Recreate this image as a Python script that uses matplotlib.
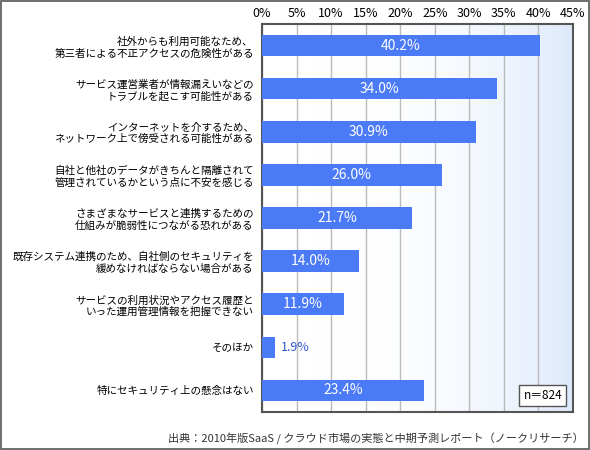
import numpy as np
import matplotlib.pyplot as plt

plt.rcParams['font.family'] = ['Noto Sans CJK JP', 'DejaVu Sans']

labels = ['社外からも利用可能なため、\n第三者による不正アクセスの危険性がある',
          'サービス運営業者が情報漏えいなどの\nトラブルを起こす可能性がある',
          'インターネットを介するため、\nネットワーク上で傍受される可能性がある',
          '自社と他社のデータがきちんと隔離されて\n管理されているかという点に不安を感じる',
          'さまざまなサービスと連携するための\n仕組みが脆弱性につながる恐れがある',
          '既存システム連携のため、自社側のセキュリティを\n緩めなければならない場合がある',
          'サービスの利用状況やアクセス履歴と\nいった運用管理情報を把握できない',
          'そのほか',
          '特にセキュリティ上の懸念はない']
values = [40.2, 34.0, 30.9, 26.0, 21.7, 14.0, 11.9, 1.9, 23.4]
ticks = np.arange(0, 50, 5)

fig = plt.figure(figsize=(5.9, 4.5), dpi=100)
ax = fig.add_axes([262/590, 1-412/450, 311/590, 388/450])

# light gradient on right side
grad = np.linspace(0, 1, 256) ** 3
ax.imshow(grad[None, :], extent=[0, 45, -0.5, len(values)-0.5], aspect='auto',
          cmap=plt.matplotlib.colors.LinearSegmentedColormap.from_list('g', ['#ffffff', '#dde9fb']),
          zorder=0)

y = np.arange(len(values))
ax.barh(y, values, height=0.5, color='#4a7af5', zorder=3)
for yi, v in zip(y, values):
    if v < 5:
        ax.text(v + 0.8, yi, f'{v:.1f}%', va='center', ha='left', color='#3355cc', fontsize=9)
    else:
        ax.text(v / 2, yi, f'{v:.1f}%', va='center', ha='center', color='white', fontsize=10)

ax.set_xlim(0, 45)
ax.set_ylim(len(values)-0.5, -0.5)
ax.set_xticks(ticks)
ax.set_xticklabels([f'{t}%' for t in ticks], fontsize=9)
ax.xaxis.tick_top()
ax.tick_params(axis='x', length=0, pad=3)
ax.set_yticks(y)
ax.set_yticklabels(labels, fontsize=7.6, linespacing=1.2)
ax.tick_params(axis='y', length=0, pad=6)
ax.grid(axis='x', color='#bbbbbb', lw=1, zorder=1)
for s in ax.spines.values():
    s.set_color('#555555')
    s.set_linewidth(1.5)

ax.text(0.965, 0.025, 'n＝824', transform=ax.transAxes, ha='right', va='bottom', fontsize=8.5,
        bbox=dict(facecolor='white', edgecolor='#555555', boxstyle='square,pad=0.35'), zorder=5)

fig.text(0.99, 0.012, '出典：2010年版SaaS / クラウド市場の実態と中期予測レポート（ノークリサーチ）',
         ha='right', va='bottom', fontsize=8, color='#333333')
fig.patches.append(plt.Rectangle((0.002, 0.003), 0.996, 0.994, transform=fig.transFigure,
                                 fill=False, edgecolor='#555555', lw=1.2))

fig.savefig('out.png')
